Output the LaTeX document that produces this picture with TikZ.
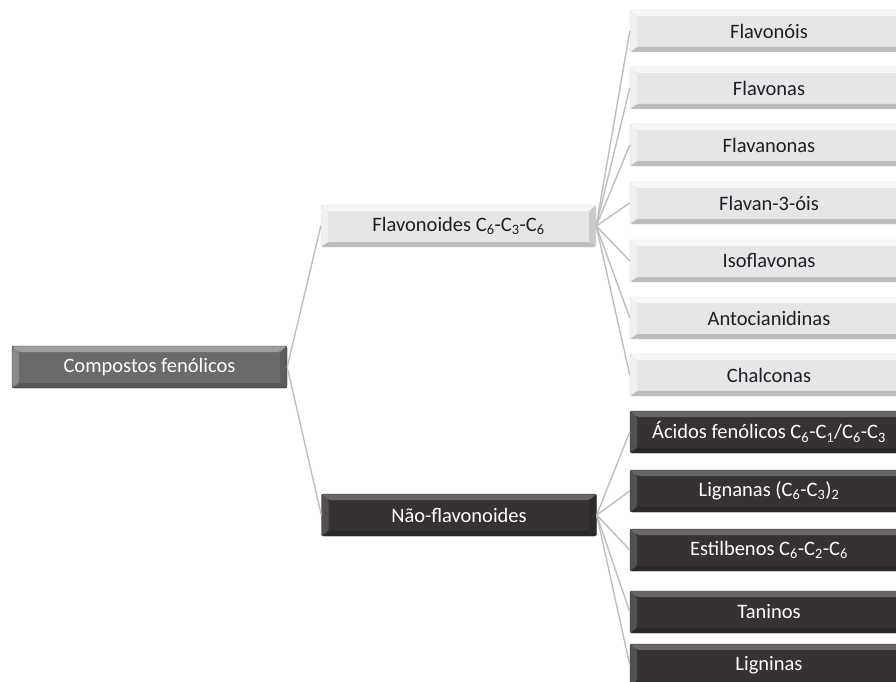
\documentclass[tikz,border=0pt]{standalone}
\usepackage{fontspec}
\setmainfont{Carlito}
\begin{document}
\begin{tikzpicture}[x=1pt,y=-1pt,
  bevel/.style={path picture={
    \fill[white,opacity=#1]
      (path picture bounding box.north west) -- (path picture bounding box.north east)
      -- ([xshift=-7pt,yshift=-6pt]path picture bounding box.north east)
      -- ([xshift=7pt,yshift=-6pt]path picture bounding box.north west) -- cycle;
    \fill[black,opacity=0.18]
      (path picture bounding box.south west) -- (path picture bounding box.south east)
      -- ([xshift=-7pt,yshift=5pt]path picture bounding box.south east)
      -- ([xshift=7pt,yshift=5pt]path picture bounding box.south west) -- cycle;
    \fill[white,opacity=#1*0.6]
      (path picture bounding box.north west) -- ([xshift=7pt,yshift=-6pt]path picture bounding box.north west)
      -- ([xshift=7pt,yshift=5pt]path picture bounding box.south west)
      -- (path picture bounding box.south west) -- cycle;
    \fill[black,opacity=0.12]
      (path picture bounding box.north east) -- ([xshift=-7pt,yshift=-6pt]path picture bounding box.north east)
      -- ([xshift=-7pt,yshift=5pt]path picture bounding box.south east)
      -- (path picture bounding box.south east) -- cycle;
  }},
  boxbase/.style={rectangle, rounded corners=2pt, minimum width=275pt, minimum height=42pt,
    inner sep=0pt, font=\fontsize{20.5}{22}\selectfont},
  lightbox/.style={boxbase, fill=lightfill, draw=lightedge, text=textdark, bevel=0.7},
  darkbox/.style={boxbase, fill=darkfill, draw=darkedge, text=white, bevel=0.25},
  midbox/.style={boxbase, fill=midfill, draw=darkedge, text=white, bevel=0.35},
  leafbox/.style={minimum width=278pt},
  link/.style={draw=linkgray, line width=1.4pt}
]
\definecolor{lightfill}{HTML}{E6E6E6}
\definecolor{lightedge}{HTML}{DADADA}
\definecolor{textdark}{HTML}{1E1E28}
\definecolor{darkfill}{HTML}{363232}
\definecolor{darkedge}{HTML}{2A2828}
\definecolor{midfill}{HTML}{6A6A6A}
\definecolor{linkgray}{HTML}{BEBEBE}

\useasboundingbox (0,0) rectangle (896,682);
\clip (0,0) rectangle (896,682);

% root
\node[midbox] (root) at (149.5,367) {Compostos fenólicos};

% second level
\node[lightbox] (flav) at (458.5,226) {Flavonoides C\textsubscript{6}-C\textsubscript{3}-C\textsubscript{6}};
\node[darkbox] (nflav) at (459,515) {Não-flavonoides};

% flavonoid classes
\node[lightbox, leafbox] (f1) at (769,31) {Flavonóis};
\node[lightbox, leafbox] (f2) at (769,88) {Flavonas};
\node[lightbox, leafbox] (f3) at (769,145) {Flavanonas};
\node[lightbox, leafbox] (f4) at (769,203) {Flavan-3-óis};
\node[lightbox, leafbox] (f5) at (769,261) {Isoflavonas};
\node[lightbox, leafbox] (f6) at (769,318) {Antocianidinas};
\node[lightbox, leafbox] (f7) at (769,375) {Chalconas};

% non-flavonoid classes
\node[darkbox, leafbox] (n1) at (769,432) {Ácidos fenólicos C\textsubscript{6}-C\textsubscript{1}/C\textsubscript{6}-C\textsubscript{3}};
\node[darkbox, leafbox] (n2) at (769,491) {Lignanas (C\textsubscript{6}-C\textsubscript{3})\textsubscript{2}};
\node[darkbox, leafbox] (n3) at (769,550) {Estilbenos C\textsubscript{6}-C\textsubscript{2}-C\textsubscript{6}};
\node[darkbox, leafbox] (n4) at (769,612) {Taninos};
\node[darkbox, leafbox] (n5) at (769,665) {Ligninas};

% connectors
\foreach \c in {flav,nflav} \draw[link] (root.east) -- (\c.west);
\foreach \c in {f1,f2,f3,f4,f5,f6,f7} \draw[link] (flav.east) -- (\c.west);
\foreach \c in {n1,n2,n3,n4,n5} \draw[link] (nflav.east) -- (\c.west);
\end{tikzpicture}
\end{document}
